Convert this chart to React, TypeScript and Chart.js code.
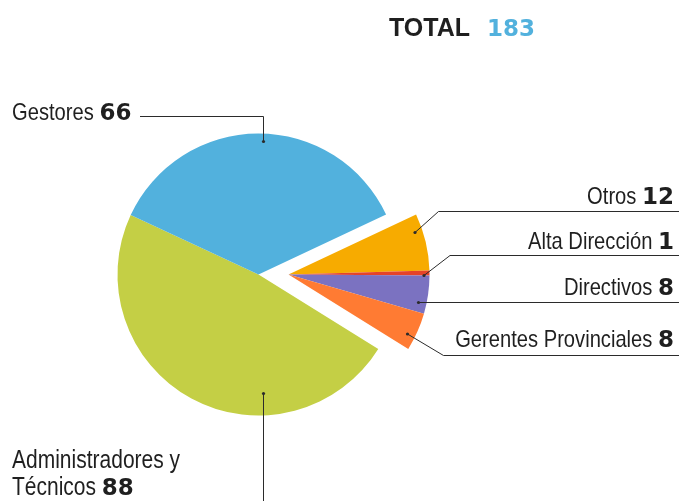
import React, { useEffect, useRef } from "react";
import { Chart, registerables } from "chart.js";

Chart.register(...registerables);

// ---- data ----
const categories = ["Otros", "Alta Dirección", "Directivos", "Gerentes Provinciales", "Administradores y Técnicos", "Gestores"];
const values = [12, 1, 8, 8, 88, 66];
const colors = ["#f7ab00", "#e5432a", "#7b72c1", "#ff7b33", "#c4cf45", "#52b1dd"];
const explodedIdx = [0, 1, 2, 3];
const totalLabel = "TOTAL";
const totalValue = "183";

const REG_FAMILY = "'Liberation Sans', Arial, sans-serif";
const SX = 0.84;
const BOLD = "bold 23px 'DejaVu Sans', sans-serif";
const LINE = "#2b2b2b";
const TEXT = "#1f1f1f";

type Ann = {
  text: string[];
  num: string;
  size: number;
  align: "left" | "right";
  x: number;
  baselines: number[];
  path: [number, number][];
  dot: [number, number];
};

const annotations: Ann[] = [
  { text: ["Gestores"], num: "66", size: 24, align: "left", x: 12, baselines: [120], path: [[140, 116.5], [263.5, 116.5], [263.5, 141.5]], dot: [263.5, 141.5] },
  { text: ["Administradores y", "Técnicos"], num: "88", size: 25, align: "left", x: 12, baselines: [467.5, 494.5], path: [[263.5, 393.5], [263.5, 501]], dot: [263.5, 393.5] },
  { text: ["Otros"], num: "12", size: 24, align: "right", x: 674, baselines: [203.5], path: [[679, 211.5], [438.5, 211.5], [415, 232.5]], dot: [415, 232.5] },
  { text: ["Alta Dirección"], num: "1", size: 24, align: "right", x: 674, baselines: [249], path: [[679, 255.5], [450, 255.5], [424, 275.5]], dot: [424, 275.5] },
  { text: ["Directivos"], num: "8", size: 24, align: "right", x: 674, baselines: [295], path: [[679, 302.5], [418.5, 302.5]], dot: [418.5, 302.5] },
  { text: ["Gerentes Provinciales"], num: "8", size: 24, align: "right", x: 674, baselines: [346.5], path: [[679, 355.5], [443.5, 355.5], [407.5, 334]], dot: [407.5, 334] },
];

const SHIFT = 30;

function narrowText(ctx: CanvasRenderingContext2D, t: string, x: number, y: number, size: number, align: CanvasTextAlign) {
  ctx.save();
  ctx.font = `${size}px ${REG_FAMILY}`;
  ctx.textAlign = align;
  ctx.translate(x, y);
  ctx.scale(SX, 1);
  ctx.fillText(t, 0, 0);
  const w = ctx.measureText(t).width * SX;
  ctx.restore();
  return w;
}

function narrowWidth(ctx: CanvasRenderingContext2D, t: string, size: number) {
  ctx.save();
  ctx.font = `${size}px ${REG_FAMILY}`;
  const w = ctx.measureText(t).width * SX;
  ctx.restore();
  return w;
}

const piePlugin = {
  id: "pieDecor",
  afterDatasetUpdate(chart: any, args: any) {
    const meta = args.meta;
    explodedIdx.forEach((i) => {
      const el = meta.data[i];
      if (el) el.x = el.x + SHIFT;
    });
  },
  afterDraw(chart: any) {
    const ctx = chart.ctx as CanvasRenderingContext2D;
    ctx.save();
    ctx.textBaseline = "alphabetic";
    ctx.textAlign = "left";
    ctx.font = "bold 25px 'Liberation Sans', sans-serif";
    ctx.fillStyle = TEXT;
    ctx.fillText(totalLabel, 389, 36);
    ctx.font = "bold 23px 'DejaVu Sans', sans-serif";
    ctx.fillStyle = "#52b1dd";
    ctx.fillText(totalValue, 487, 36);

    annotations.forEach((a) => {
      ctx.strokeStyle = LINE;
      ctx.lineWidth = 1;
      ctx.beginPath();
      a.path.forEach(([x, y], k) => (k === 0 ? ctx.moveTo(x, y) : ctx.lineTo(x, y)));
      ctx.stroke();
      ctx.fillStyle = LINE;
      ctx.beginPath();
      ctx.arc(a.dot[0], a.dot[1], 1.6, 0, Math.PI * 2);
      ctx.fill();

      ctx.fillStyle = TEXT;
      const last = a.text.length - 1;
      a.text.forEach((t, k) => {
        const y = a.baselines[k];
        if (a.align === "left") {
          const w = narrowText(ctx, t, a.x, y, a.size, "left");
          if (k === last) {
            const sw = narrowWidth(ctx, " ", a.size);
            ctx.font = BOLD;
            ctx.textAlign = "left";
            ctx.fillText(a.num, a.x + w + sw, y);
          }
        } else {
          ctx.font = BOLD;
          ctx.textAlign = "right";
          const nw = ctx.measureText(a.num).width;
          ctx.fillText(a.num, a.x, y);
          const sw = narrowWidth(ctx, " ", a.size);
          narrowText(ctx, t, a.x - nw - sw, y, a.size, "right");
        }
      });
    });
    ctx.restore();
  },
};

export default function App() {
  const ref = useRef<HTMLCanvasElement | null>(null);
  useEffect(() => {
    document.body.style.margin = "0";
    const chart = new Chart(ref.current as HTMLCanvasElement, {
      type: "pie",
      data: {
        labels: categories,
        datasets: [
          {
            data: values,
            backgroundColor: colors,
            borderWidth: 0,
          },
        ],
      },
      options: {
        responsive: false,
        animation: false,
        rotation: 64.8,
        layout: { padding: { left: 117.5, top: 133.5, right: 279.5, bottom: 85.5 } },
        plugins: { legend: { display: false }, tooltip: { enabled: false }, title: { display: false } },
      },
      plugins: [piePlugin],
    });
    return () => chart.destroy();
  }, []);
  return (
    <div style={{ position: "absolute", left: 0, top: 0, width: 679, height: 501, background: "#fff" }}>
      <canvas ref={ref} width={679} height={501} />
    </div>
  );
}
